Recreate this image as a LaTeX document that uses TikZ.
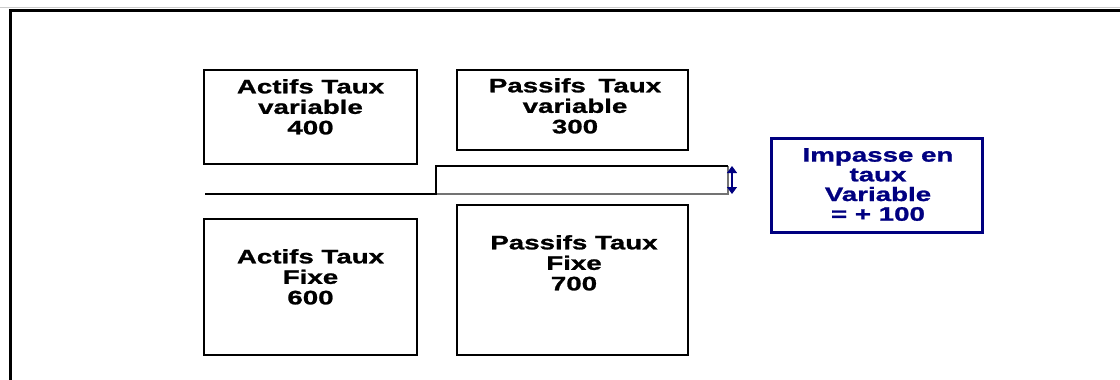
\documentclass[tikz,border=0pt]{standalone}
\usepackage{fontspec}
\newfontfamily\widefont[FakeStretch=1.42,FakeBold=1.2]{Liberation Sans}
\usetikzlibrary{arrows.meta}
\definecolor{navyc}{RGB}{0,0,128}
\begin{document}
\begin{tikzpicture}[x=1pt,y=-1pt,
  boxstyle/.style={draw=black,line width=2pt,inner sep=0pt},
  txt/.style={inner sep=0pt,align=center,anchor=north,
    font={\widefont\bfseries\fontsize{19.5}{20.5}\selectfont}},
  imptxt/.style={txt,text=navyc,font={\widefont\bfseries\fontsize{19.5}{19.7}\selectfont}}]
\useasboundingbox (0,0) rectangle (1120,380);
% frame
\draw[line width=1pt,black!20] (0,7) -- (1120,7);
\draw[line width=3pt,black] (10,382) -- (10,10) -- (1122,10);
% boxes
\node[boxstyle,minimum width=213pt,minimum height=94pt] (av) at (310.5,117) {};
\node[boxstyle,minimum width=231pt,minimum height=80pt] (pv) at (572.5,110) {};
\node[boxstyle,minimum width=213pt,minimum height=136pt] (af) at (310.5,287) {};
\node[boxstyle,minimum width=231pt,minimum height=150pt] (pf) at (572.5,279.5) {};
\node[draw=navyc,line width=3.5pt,inner sep=0pt,minimum width=211pt,minimum height=94pt] (imp) at (877,185.5) {};
% texts
\node[txt] (tav) at (310.5,79) {Actifs Taux\\variable\\400};
\node[txt] (tpv) at (575,78) {Passifs\kern5pt{} Taux\\variable\\300};
\node[txt] (taf) at (310.5,249) {Actifs Taux\\Fixe\\600};
\node[txt] (tpf) at (574,235) {Passifs Taux\\Fixe\\700};
\node[imptxt] (timp) at (878,148) {Impasse en\\taux\\Variable\\= + 100};
% step line
\coordinate (s1) at (205,194);
\coordinate (s2) at (436,194);
\coordinate (s3) at (436,166);
\coordinate (s4) at (728,166);
\coordinate (s5) at (728,194);
\draw[line width=1.5pt,black!55] (s4) -- (s5) -- (s2);
\draw[line width=2pt,black] (s1) -- (s2) -- (s3) -- (s4);
% arrow
\coordinate (a1) at (732,166);
\coordinate (a2) at (732,194);
\draw[navyc,line width=1.2pt,{Triangle[width=10pt,length=7pt]}-{Triangle[width=10pt,length=7pt]}] (a1) -- (a2);
\end{tikzpicture}
\end{document}
